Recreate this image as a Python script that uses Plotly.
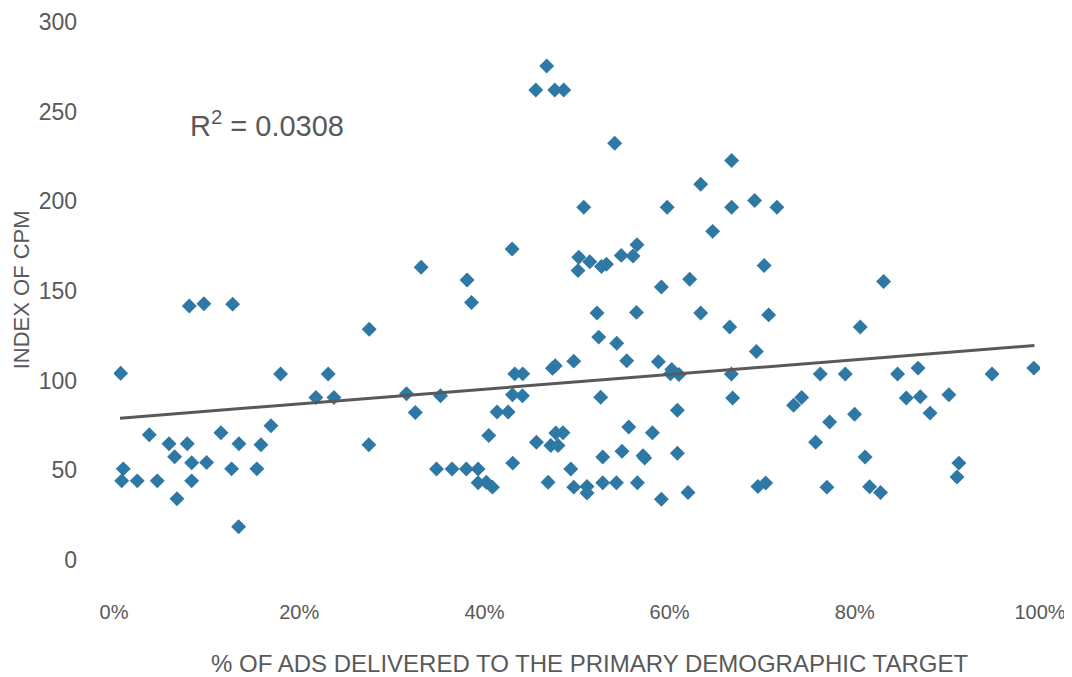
import plotly.graph_objects as go

# share of ads delivered to the primary target (fraction) and CPM index
pct_on_target = [
    0.0072, 0.010, 0.0083, 0.0251, 0.0381, 0.0467, 0.0594, 0.0655, 0.0680, 0.0791,
    0.0813, 0.0839, 0.0839, 0.0971, 0.100, 0.1155, 0.1281, 0.1270, 0.1349, 0.1346,
    0.1543, 0.1587, 0.1695, 0.1799, 0.2180, 0.2375, 0.2313, 0.2756, 0.2752, 0.3317,
    0.3159, 0.3254, 0.3483, 0.3526, 0.3651, 0.3805, 0.3813, 0.3861, 0.3932, 0.3932,
    0.4021, 0.4087, 0.4047, 0.4137, 0.4256, 0.4299, 0.4328, 0.4414, 0.4303, 0.4411,
    0.4306, 0.4555, 0.4673, 0.4760, 0.4857, 0.4562, 0.4688, 0.4717, 0.4735, 0.4765,
    0.4771, 0.4795, 0.4849, 0.4933, 0.4965, 0.4965, 0.5011, 0.5019, 0.5073, 0.5108,
    0.5108, 0.5138, 0.5216, 0.5235, 0.5256, 0.5264, 0.5318, 0.5278, 0.5278, 0.5407,
    0.5429, 0.5478, 0.5486, 0.5426, 0.5537, 0.5559, 0.5605, 0.5648, 0.5642, 0.5652,
    0.5713, 0.5731, 0.5814, 0.5879, 0.5911, 0.5911, 0.5974, 0.6009, 0.6023, 0.6101,
    0.6084, 0.6084, 0.6199, 0.6217, 0.6336, 0.6336, 0.6465, 0.6649, 0.6667, 0.6670,
    0.6670, 0.6681, 0.6918, 0.6937, 0.6954, 0.7021, 0.7037, 0.7070, 0.7159, 0.7339,
    0.7426, 0.7577, 0.7627, 0.7699, 0.7728, 0.7897, 0.7998, 0.8059, 0.8111, 0.8160,
    0.8278, 0.8311, 0.8462, 0.8556, 0.8683, 0.8707, 0.8813, 0.9016, 0.9104, 0.9124,
    0.9482, 0.9933,
]
cpm_index = [
    104, 50.7, 44, 44, 69.7, 44, 64.7, 57.4, 34, 64.7,
    141.6, 54.1, 44, 142.8, 54.3, 70.8, 142.6, 50.7, 64.7, 18.4,
    50.7, 64.1, 74.7, 103.6, 90.5, 90.5, 103.6, 128.6, 64.1, 163.2,
    92.6, 82.2, 50.6, 91.5, 50.6, 50.6, 156.1, 143.5, 50.6, 42.9,
    43.2, 40.5, 69.3, 82.4, 82.4, 173.3, 103.7, 103.7, 92, 91.5,
    53.9, 262.1, 275.5, 262.1, 262.1, 65.5, 43.2, 63.7, 106.8, 108.2,
    70.7, 63.7, 70.8, 50.6, 110.8, 40.5, 161.3, 168.8, 196.6, 40.9,
    37.2, 166.3, 137.6, 124.2, 90.7, 163.6, 164.9, 57.3, 42.9, 232.4,
    120.8, 169.8, 60.5, 42.9, 111, 74, 169.5, 175.7, 138, 42.9,
    58, 56.7, 70.8, 110.4, 152.1, 33.8, 196.6, 103.7, 106.2, 103.4,
    83.4, 59.4, 37.5, 156.5, 209.5, 137.6, 183.2, 129.8, 103.6, 222.7,
    196.6, 90.2, 200.4, 116.2, 40.9, 164.1, 42.8, 136.6, 196.7, 86.2,
    90.5, 65.5, 103.6, 40.5, 76.8, 103.6, 81.2, 129.8, 57.3, 40.7,
    37.5, 155.2, 103.6, 90.2, 106.9, 90.9, 81.8, 92, 46.1, 53.9,
    103.6, 106.9,
]

# linear trendline endpoints as shown on the chart
trend_x = [0.0065, 0.994]
trend_y = [79.0, 119.5]
r_squared = "0.0308"

x_ticks = [0, 0.2, 0.4, 0.6, 0.8, 1.0]
y_ticks = [0, 50, 100, 150, 200, 250, 300]

grey = "#595959"
font_family = "Liberation Sans, Arial, sans-serif"

fig = go.Figure()

fig.add_trace(go.Scatter(
    x=pct_on_target, y=cpm_index, mode="markers",
    marker=dict(symbol="diamond", size=11.5, color="#2E78A6"),
    showlegend=False,
))

fig.add_trace(go.Scatter(
    x=trend_x, y=trend_y, mode="lines",
    line=dict(color=grey, width=3),
    showlegend=False,
))

# page body has an 8px margin, so the figure is a bit smaller than the window
fig.update_layout(
    width=1064, height=669,
    margin=dict(l=106, r=32, t=14, b=85),
    plot_bgcolor="white", paper_bgcolor="white",
    font=dict(family=font_family, color=grey, size=20),
    xaxis=dict(
        range=[0, 1], tickvals=x_ticks, tickformat=".0%",
        showgrid=False, zeroline=False, showline=False, automargin=False,
        ticklabelstandoff=6, tickfont=dict(size=20),
    ),
    yaxis=dict(
        range=[-18, 300], tickvals=y_ticks,
        showgrid=False, zeroline=False, showline=False, automargin=False,
        ticklabelstandoff=36, tickfont=dict(size=23),
    ),
    annotations=[
        dict(text="% OF ADS DELIVERED TO THE PRIMARY DEMOGRAPHIC TARGET",
             xref="paper", yref="paper", x=0.514, y=-0.1246,
             xanchor="center", yanchor="middle", showarrow=False,
             font=dict(size=24, color=grey)),
        dict(text="INDEX OF CPM", textangle=-90,
             xref="paper", yref="paper", x=-0.1, y=0.53,
             xanchor="center", yanchor="middle", showarrow=False,
             font=dict(size=22, color=grey)),
        dict(text="R<sup>2</sup> = " + r_squared,
             xref="x", yref="y", x=0.080, y=243,
             xanchor="left", yanchor="middle", showarrow=False,
             font=dict(size=29, color=grey)),
    ],
)

fig.write_html("out.html")
